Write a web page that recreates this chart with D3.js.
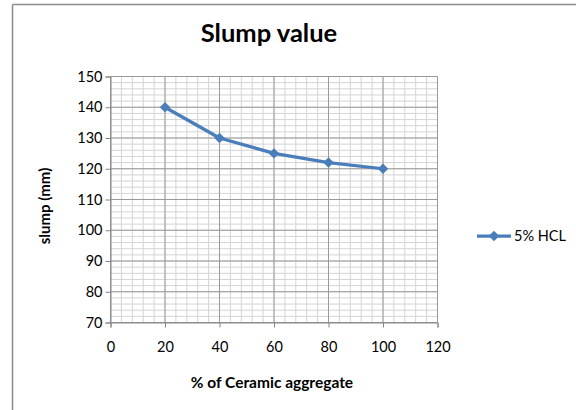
<!DOCTYPE html>
<html><head><meta charset="utf-8">
<script src="https://d3js.org/d3.v7.min.js"></script>
<style>body{margin:0;background:#fff}svg{display:block}</style>
</head><body>
<script>
const xValues = [20, 40, 60, 80, 100];
const slump = [140, 130, 125, 122, 120];
const seriesName = "5% HCL";
const xTicks = [0, 20, 40, 60, 80, 100, 120];
const yTicks = [70, 80, 90, 100, 110, 120, 130, 140, 150];
const title = "Slump value";
const xLabel = "% of Ceramic aggregate";
const yLabel = "slump (mm)";

const W = 576, H = 410;
const font = "Lato, 'Open Sans', sans-serif";
const svg = d3.select("body").append("svg").attr("width", W).attr("height", H);
svg.append("rect").attr("width", W).attr("height", H).attr("fill", "#fff");
// chart frame (top and left visible)
svg.append("line").attr("x1", 12.5).attr("x2", W).attr("y1", 4.5).attr("y2", 4.5).attr("stroke", "#8c8c8c").attr("stroke-width", 1.5);
svg.append("line").attr("x1", 12.5).attr("x2", 12.5).attr("y1", 4.5).attr("y2", H).attr("stroke", "#8c8c8c").attr("stroke-width", 1.5);

const x = d3.scaleLinear().domain([0, 120]).range([110.5, 437.5]);
const y = d3.scaleLinear().domain([70, 150]).range([322.5, 76.5]);

// minor grid
const g = svg.append("g");
g.selectAll(".vmin").data(d3.range(0, 121, 4)).join("line")
  .attr("x1", d => x(d)).attr("x2", d => x(d)).attr("y1", y(70)).attr("y2", y(150))
  .attr("stroke", "#d4d4d4").attr("stroke-width", 1);
g.selectAll(".hmin").data(d3.range(70, 151, 2)).join("line")
  .attr("y1", d => y(d)).attr("y2", d => y(d)).attr("x1", x(0)).attr("x2", x(120))
  .attr("stroke", "#d4d4d4").attr("stroke-width", 1);
// major grid
g.selectAll(".vmaj").data(xTicks).join("line")
  .attr("x1", d => x(d)).attr("x2", d => x(d)).attr("y1", y(70)).attr("y2", y(150))
  .attr("stroke", "#9a9a9a").attr("stroke-width", 1);
g.selectAll(".hmaj").data(yTicks).join("line")
  .attr("y1", d => y(d)).attr("y2", d => y(d)).attr("x1", x(0)).attr("x2", x(120))
  .attr("stroke", "#9a9a9a").attr("stroke-width", 1);

// axes
const xAxis = svg.append("g").attr("transform", `translate(0,${y(70)})`)
  .call(d3.axisBottom(x).tickValues(xTicks).tickSize(5).tickPadding(14).tickFormat(d3.format("d")));
const yAxis = svg.append("g").attr("transform", `translate(${x(0)},0)`)
  .call(d3.axisLeft(y).tickValues(yTicks).tickSize(5).tickPadding(3).tickFormat(d3.format("d")));
[xAxis, yAxis].forEach(a => {
  a.select(".domain").attr("stroke", "#868686");
  a.selectAll(".tick line").attr("stroke", "#868686");
  a.selectAll("text").attr("font-family", font).attr("font-size", 14.5).attr("fill", "#000");
});

// line
const data = xValues.map((v, i) => ({x: v, y: slump[i]}));
svg.append("path").datum(data)
  .attr("d", d3.line().x(d => x(d.x)).y(d => y(d.y)))
  .attr("fill", "none").attr("stroke", "#4a7ebb").attr("stroke-width", 3.25).attr("stroke-linejoin", "round");
const diamond = d3.symbol().type(d3.symbolDiamond2).size(70);
svg.selectAll(".pt").data(data).join("path")
  .attr("d", diamond).attr("transform", d => `translate(${x(d.x)},${y(d.y)})`)
  .attr("fill", "#4a7ebb");

// title & labels
svg.append("text").attr("x", 269).attr("y", 42).attr("text-anchor", "middle")
  .attr("font-family", font).attr("font-weight", "bold").attr("font-size", 25.5).text(title);
svg.append("text").attr("x", 272).attr("y", 388).attr("text-anchor", "middle")
  .attr("font-family", font).attr("font-weight", "bold").attr("font-size", 15.5).text(xLabel);
svg.append("text").attr("transform", "translate(50,206) rotate(-90)").attr("text-anchor", "middle")
  .attr("font-family", font).attr("font-weight", "bold").attr("font-size", 15).text(yLabel);

// legend
const ly = 236;
svg.append("line").attr("x1", 477).attr("x2", 511).attr("y1", ly).attr("y2", ly)
  .attr("stroke", "#4a7ebb").attr("stroke-width", 3.25);
svg.append("path").attr("d", diamond).attr("transform", `translate(494,${ly})`).attr("fill", "#4a7ebb");
svg.append("text").attr("x", 514).attr("y", ly + 5).attr("font-family", font).attr("font-size", 14.5).text(seriesName);
</script>
</body></html>
